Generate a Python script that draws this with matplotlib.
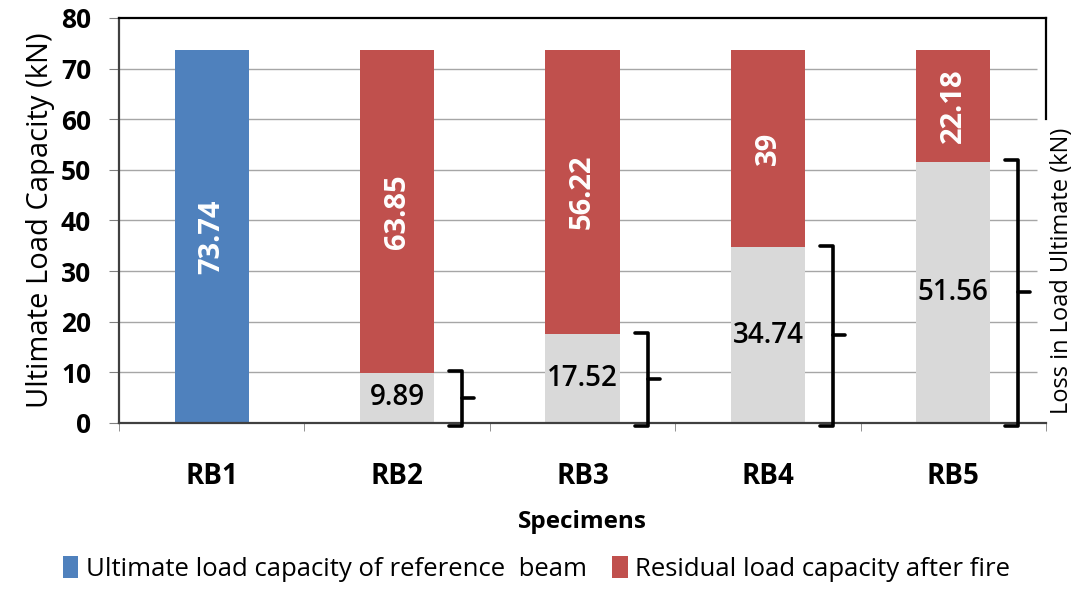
import numpy as np
import matplotlib
matplotlib.use("Agg")
import matplotlib.pyplot as plt

specimens = ["RB1", "RB2", "RB3", "RB4", "RB5"]
reference = [73.74, 0, 0, 0, 0]
loss = [0, 9.89, 17.52, 34.74, 51.56]
residual = [0, 63.85, 56.22, 39, 22.18]

blue = "#4F81BD"
red = "#C0504D"
grey = "#D9D9D9"

plt.rcParams['font.family'] = ['Open Sans', 'DejaVu Sans']

fig = plt.figure(figsize=(10.73, 5.96), dpi=100)
ax = fig.add_axes([0.1109, 0.2903, 0.864, 0.6795])

x = np.arange(len(specimens))
w = 0.4

ax.hlines(np.arange(10, 80, 10), -0.5, 4.45, color="#A6A6A6", lw=1.0, zorder=0)

ax.bar(x, reference, w, color=blue, zorder=2, label="Ultimate load capacity of reference  beam")
ax.bar(x, loss, w, color=grey, zorder=2)
ax.bar(x, residual, w, bottom=loss, color=red, zorder=2, label="Residual load capacity after fire")

# labels inside bars
ax.text(x[0], reference[0] / 2, f"{reference[0]:g}", color="white", rotation=90,
        ha="center", va="center", fontsize=21, fontweight="bold")
for i in range(1, 5):
    ax.text(x[i], loss[i] + residual[i] / 2, f"{residual[i]:g}", color="white",
            rotation=90, ha="center", va="center", fontsize=21, fontweight="bold")
    ax.text(x[i], loss[i] / 2, f"{loss[i]:g}", color="black",
            ha="center", va="center", fontsize=20, fontweight="semibold")

# braces next to the loss segments
px = 1 / 185.5
for i in range(1, 5):
    x0 = x[i] + w / 2 + 15 * px
    xv = x0 + 13 * px
    xt = xv + 12 * px
    top = loss[i] + 0.3
    ax.plot([x0, xv, xv, x0], [top, top, -0.6, -0.6], color="black", lw=2.6,
            solid_joinstyle="round", solid_capstyle="round", zorder=3, clip_on=False)
    ax.plot([xv, xt], [loss[i] / 2, loss[i] / 2], color="black", lw=2.6,
            solid_capstyle="round", zorder=3, clip_on=False)

ax.set_xlim(-0.5, 4.5)
ax.set_ylim(0, 80)
ax.set_yticks(np.arange(0, 81, 10))
ax.set_xticks(x)
ax.set_xticklabels(specimens)
ax.set_xticks(np.arange(-0.5, 5, 1), minor=True)
ax.tick_params(axis="x", which="major", length=0, pad=28, labelsize=20)
ax.tick_params(axis="x", which="minor", length=6, direction="out", color="#808080")
ax.tick_params(axis="y", length=7, direction="out", color="#808080", labelsize=19, pad=13)
for t in ax.get_xticklabels() + ax.get_yticklabels():
    t.set_fontweight("bold")

for s in ["left", "bottom"]:
    ax.spines[s].set_color("#404040")
    ax.spines[s].set_linewidth(1.6)
ax.spines["top"].set_color("black")
ax.spines["top"].set_linewidth(1.6)
ax.spines["right"].set_color("black")
ax.spines["right"].set_linewidth(1.6)
ax.spines["right"].set_bounds(60, 80)

ax.set_ylabel("Ultimate Load Capacity (kN)", fontsize=21, labelpad=4)
ax.set_xlabel("Specimens", fontsize=17.5, fontweight="bold", labelpad=14)

fig.text(0.9895, 0.545, "Loss in Load Ultimate (kN)", rotation=90, fontsize=17,
         ha="center", va="center")

ax.legend(loc="lower center", bbox_to_anchor=(0.5, -0.015), bbox_transform=fig.transFigure,
          ncol=2, frameon=False, fontsize=18.5, handlelength=0.6, handleheight=0.9,
          handletextpad=0.3, columnspacing=1.0)

fig.savefig("out.png", dpi=100)
